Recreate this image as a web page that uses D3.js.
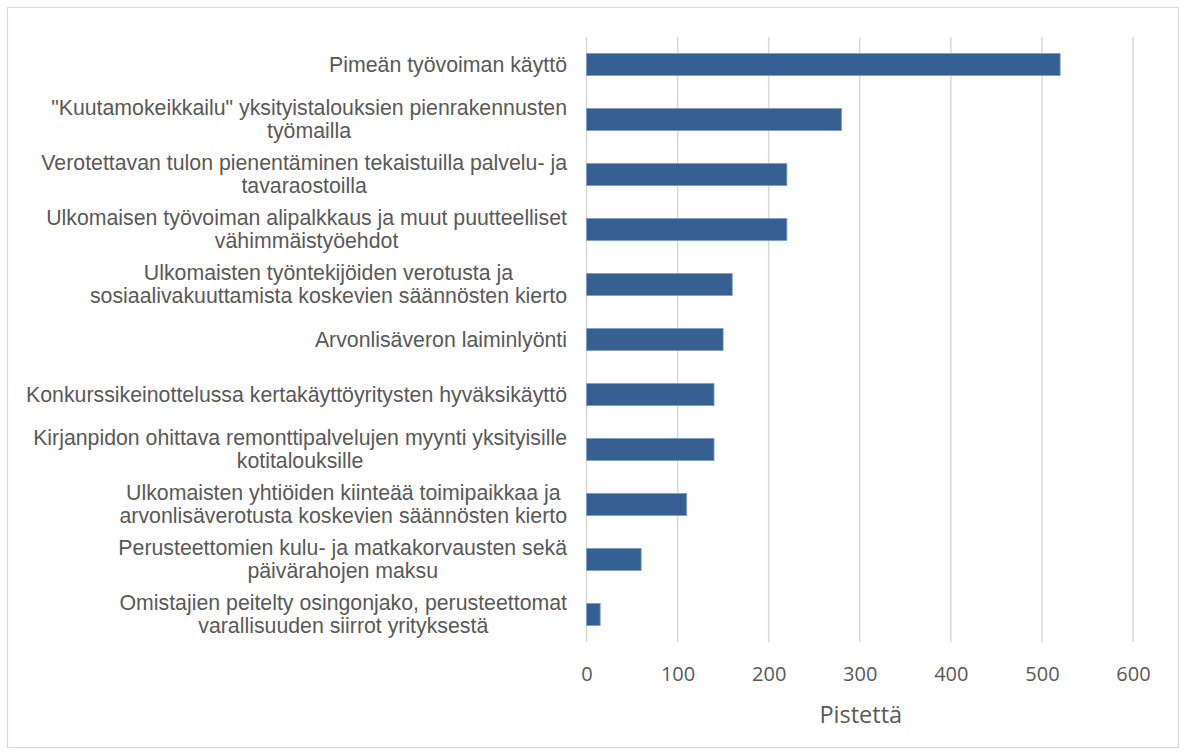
<!DOCTYPE html>
<html>
<head>
<meta charset="utf-8">
<script src="https://cdn.jsdelivr.net/npm/d3@7"></script>
<style>
  body { margin: 0; background: #fff; }
  svg text { fill: #595959; }
</style>
</head>
<body>
<div id="chart"></div>
<script>
// categories, top to bottom; "\n" marks the line breaks of the original labels
const categories = [
    'Pimeän työvoiman käyttö',
    '"Kuutamokeikkailu" yksityistalouksien pienrakennusten\ntyömailla',
    'Verotettavan tulon pienentäminen tekaistuilla palvelu- ja\ntavaraostoilla',
    'Ulkomaisen työvoiman alipalkkaus ja muut puutteelliset\nvähimmäistyöehdot',
    'Ulkomaisten työntekijöiden verotusta ja\nsosiaalivakuuttamista koskevien säännösten kierto',
    'Arvonlisäveron laiminlyönti',
    'Konkurssikeinottelussa kertakäyttöyritysten hyväksikäyttö',
    'Kirjanpidon ohittava remonttipalvelujen myynti yksityisille\nkotitalouksille',
    'Ulkomaisten yhtiöiden kiinteää toimipaikkaa ja\narvonlisäverotusta koskevien säännösten kierto',
    'Perusteettomien kulu- ja matkakorvausten sekä\npäivärahojen maksu',
    'Omistajien peitelty osingonjako, perusteettomat\nvarallisuuden siirrot yrityksestä'
];
const points = [520, 280, 220, 220, 160, 150, 140, 140, 110, 60, 15];
const xTicks = [0, 100, 200, 300, 400, 500, 600];
const xTitle = 'Pistettä';

const W = 1186, H = 755;
const plot = { left: 586.5, right: 1133, top: 37, bottom: 642 };
const labelRight = 567;

const svg = d3.select('#chart').append('svg')
    .attr('width', W).attr('height', H);

// chart frame
svg.append('rect')
    .attr('x', 7.5).attr('y', 7.5)
    .attr('width', 1171).attr('height', 740)
    .attr('fill', '#fff').attr('stroke', '#d9d9d9').attr('stroke-width', 1.2);

const x = d3.scaleLinear().domain([0, 600]).range([plot.left, plot.right]);
const y = d3.scaleBand().domain(categories)
    .range([plot.top, plot.bottom])
    .paddingInner(0.6).paddingOuter(0.3);

// grid
svg.append('g').selectAll('line')
    .data(xTicks)
    .enter().append('line')
        .attr('x1', d => x(d)).attr('x2', d => x(d))
        .attr('y1', plot.top).attr('y2', plot.bottom)
        .attr('stroke', '#d9d9d9').attr('stroke-width', 1.5);

// bars
svg.append('g').selectAll('rect')
    .data(categories)
    .enter().append('rect')
        .attr('x', x(0))
        .attr('y', d => y(d))
        .attr('width', (d, i) => x(points[i]) - x(0))
        .attr('height', y.bandwidth())
        .attr('fill', '#366092')
        .attr('stroke', '#7d9cc4').attr('stroke-width', 0.8);

// x axis tick labels
const xAxis = svg.append('g')
    .attr('transform', 'translate(0,' + plot.bottom + ')')
    .call(d3.axisBottom(x).tickValues(xTicks).tickSize(0).tickPadding(25));
xAxis.select('.domain').remove();
xAxis.selectAll('text')
    .attr('font-family', '"Open Sans", sans-serif')
    .attr('font-size', 20)
    .attr('fill', '#595959');

svg.append('text')
    .attr('x', (plot.left + plot.right) / 2 + 1)
    .attr('y', 723)
    .attr('text-anchor', 'middle')
    .attr('font-family', '"Open Sans", sans-serif')
    .attr('font-size', 23.5)
    .text(xTitle);

// category labels: block right aligned, lines centred inside the block
const lineGap = 23;
const labels = svg.append('g')
    .attr('font-family', '"Liberation Sans", Arial, sans-serif')
    .attr('font-size', 21.3);

categories.forEach(c => {
    const lines = c.split('\n');
    const cy = y(c) + y.bandwidth() / 2;
    const g = labels.append('g');
    const texts = lines.map((l, j) => g.append('text')
        .attr('y', cy + (j - (lines.length - 1) / 2) * lineGap)
        .attr('dy', '0.35em')
        .attr('text-anchor', 'middle')
        .text(l));
    const maxW = d3.max(texts, t => t.node().getComputedTextLength());
    texts.forEach(t => t.attr('x', labelRight - maxW / 2));
});
</script>
</body>
</html>
